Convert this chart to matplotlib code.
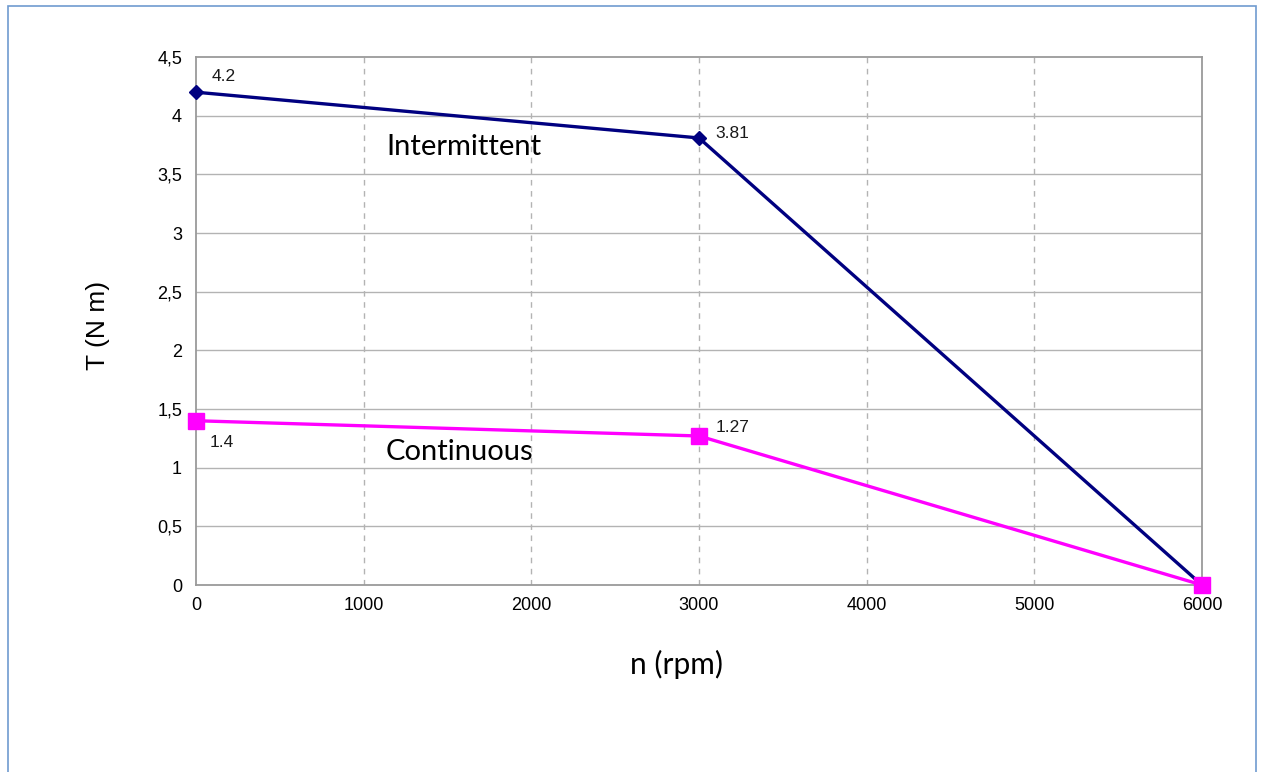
import matplotlib
matplotlib.use('Agg')
import matplotlib.pyplot as plt
from matplotlib.patches import Rectangle
from matplotlib.ticker import FuncFormatter

# speed / torque curve points
speed = [0, 3000, 6000]
torque_intermittent = [4.2, 3.81, 0.0]
torque_continuous = [1.4, 1.27, 0.0]

x_ticks = [0, 1000, 2000, 3000, 4000, 5000, 6000]
y_ticks = [0, 0.5, 1, 1.5, 2, 2.5, 3, 3.5, 4, 4.5]

fig = plt.figure(figsize=(12.63, 7.72), dpi=100)
fig.patches.append(Rectangle((8 / 1263, -0.05), 1248 / 1263, 1 - 6 / 772 + 0.05,
                             transform=fig.transFigure, fill=False,
                             edgecolor='#6f9bd0', linewidth=1.2))

ax = fig.add_axes([196 / 1263, 1 - 585 / 772, 1006 / 1263, 528 / 772])

# grid first, so curves and frame sit on top
for y in y_ticks[1:-1]:
    ax.axhline(y, color='#b3b3b3', linewidth=1.0, zorder=1)
for x in x_ticks[1:-1]:
    ax.axvline(x, color='#b3b3b3', linewidth=1.0, linestyle=(0, (4, 4)), zorder=1)

ax.plot(speed, torque_intermittent, color='#000080', linewidth=2.4,
        marker='D', markersize=7, zorder=3, clip_on=False)
ax.plot(speed, torque_continuous, color='#ff00ff', linewidth=2.4,
        marker='s', markersize=11, zorder=4, clip_on=False)

label_font = dict(family='Liberation Sans', fontsize=12.5, color='#1a1a1a')
ax.annotate('%g' % torque_intermittent[0], (speed[0], torque_intermittent[0]),
            xytext=(11, 11), textcoords='offset points', va='center', **label_font)
ax.annotate('%g' % torque_intermittent[1], (speed[1], torque_intermittent[1]),
            xytext=(12, 3), textcoords='offset points', va='center', **label_font)
ax.annotate('%g' % torque_continuous[0], (speed[0], torque_continuous[0]),
            xytext=(10, -16), textcoords='offset points', va='center', **label_font)
ax.annotate('%g' % torque_continuous[1], (speed[1], torque_continuous[1]),
            xytext=(12, 6), textcoords='offset points', va='center', **label_font)

ax.text(1133, 3.73, 'Intermittent', family='Lato', fontsize=21, va='center')
ax.text(1133, 1.13, 'Continuous', family='Lato', fontsize=21, va='center')

ax.set_xlim(0, 6000)
ax.set_ylim(0, 4.5)
ax.set_xticks(x_ticks)
ax.set_yticks(y_ticks)
ax.yaxis.set_major_formatter(FuncFormatter(lambda v, p: ('%g' % v).replace('.', ',')))
ax.tick_params(length=0, labelsize=13)
ax.tick_params(axis='y', pad=10)
ax.tick_params(axis='x', pad=9)
for lbl in ax.get_xticklabels() + ax.get_yticklabels():
    lbl.set_family('Liberation Sans')

for s in ax.spines.values():
    s.set_color('#9a9a9a')
    s.set_linewidth(1.3)
    s.set_zorder(2)

fig.text(98 / 1263, 1 - 325 / 772, 'T (N m)', family='Liberation Sans', fontsize=19,
         rotation=90, ha='center', va='center')
fig.text(676 / 1263, 1 - 664 / 772, 'n (rpm)', family='Lato', fontsize=21.5,
         ha='center', va='center')

fig.savefig('out.png', dpi=100)
